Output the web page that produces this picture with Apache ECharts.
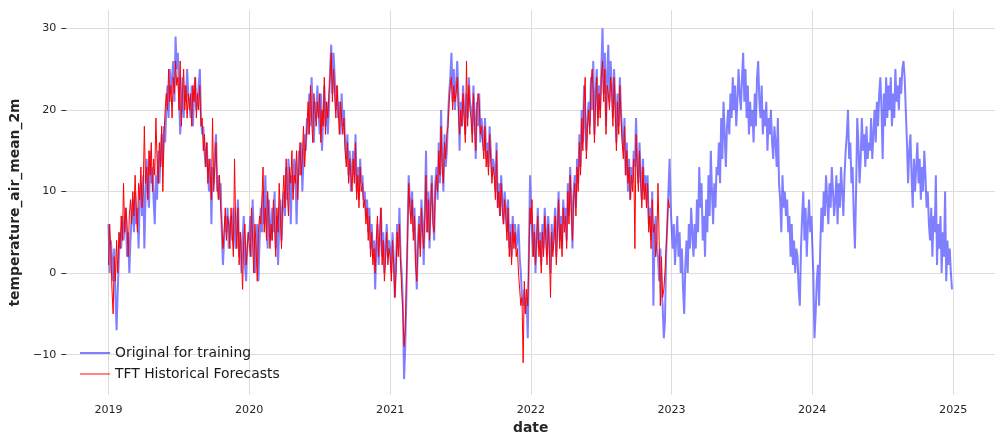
<!DOCTYPE html>
<html>
<head>
<meta charset="utf-8">
<script src="https://cdn.jsdelivr.net/npm/echarts@6/dist/echarts.min.js"></script>
<style>
  html, body { margin: 0; padding: 0; background: #fff; }
  #main { width: 1003px; height: 447px; }
</style>
</head>
<body>
<div id="main"></div>
<script>
// values every 3 days, each year's list starts on 1 Jan
const orig2019 = [6, 0, 4, 2, -1, 3, -3, -7, -2, 2,
  5, 3, 7, 4, 6, 8, 2, 5, 0, 4,
  7, 9, 5, 10, 6, 8, 3, 9, 11, 7,
  12, 3, 9, 14, 10, 8, 15, 11, 13, 9,
  6, 12, 9, 15, 11, 14, 17, 13, 18, 16,
  20, 23, 19, 25, 22, 24, 26, 21, 29, 25,
  27, 22, 17, 20, 24, 19, 23, 21, 25, 22,
  21, 19, 23, 18, 22, 24, 20, 21, 23, 25,
  19, 17, 18, 15, 13, 16, 12, 10, 14, 6,
  13, 11, 15, 17, 10, 12, 9, 11, 5, 1,
  4, 7, 5, 8, 3, 6, 7, 4, 8, 5,
  3, 6, 9, 2, 5, 0, 4, 7, 1, -1, 3, 5];
const orig2020 = [4, 7, 2, 9, 5, 0, 3, 6, -1, 4,
  8, 5, 10, 6, 12, 7, 3, 9, 6, 4,
  8, 5, 10, 3, 7, 1, 6, 9, 4, 8,
  10, 7, 13, 9, 14, 11, 6, 12, 10, 14,
  13, 6, 11, 15, 12, 16, 10, 14, 17, 15,
  19, 17, 22, 18, 24, 20, 16, 21, 19, 23,
  20, 17, 22, 15, 19, 23, 18, 21, 17, 20,
  25, 28, 22, 27, 24, 20, 23, 19, 21, 17,
  22, 18, 20, 16, 14, 17, 12, 15, 10, 13,
  15, 12, 17, 10, 13, 9, 14, 11, 12, 9,
  10, 7, 9, 5, 8, 3, 6, 2, 4, -2,
  3, 6, 1, 4, 8, 2, 5, 0, 3, 6, 2, 4];
const orig2021 = [3, 0, 5, 2, -3, 1, 6, 3, 8, 2,
  0, -4, -13, -9, -3, 5, 12, 9, 7, 10,
  5, 8, 2, -2, 4, 7, 3, 9, 6, 1,
  8, 15, 5, 10, 3, 9, 12, 7, 4, 11,
  13, 9, 16, 11, 20, 14, 10, 17, 13, 15,
  19, 22, 24, 27, 21, 25, 20, 23, 26, 22,
  15, 21, 18, 23, 20, 17, 22, 19, 24, 21,
  20, 17, 23, 19, 14, 21, 18, 22, 16, 19,
  17, 15, 19, 14, 16, 13, 18, 15, 12, 14,
  13, 10, 16, 8, 11, 7, 12, 9, 6, 10,
  8, 5, 9, 3, 6, 2, 7, 4, 6, 3,
  4, 6, 2, 0, -3, -4, -2, -5, -3, -8, 3, 12];
const orig2022 = [9, 5, 2, 6, 0, 4, 8, 3, 5, 1,
  6, 3, 8, 5, 2, 7, 4, 0, 6, 3,
  5, 8, 2, 6, 10, 4, 7, 3, 9, 6,
  8, 4, 11, 7, 13, 9, 3, 10, 12, 8,
  14, 11, 17, 13, 20, 16, 23, 18, 15, 19,
  21, 18, 24, 20, 26, 17, 22, 25, 19, 23,
  20, 25, 30, 22, 27, 18, 24, 28, 21, 26,
  23, 19, 25, 21, 16, 22, 18, 24, 20, 17,
  15, 19, 12, 16, 10, 14, 9, 13, 11, 15,
  13, 19, 14, 11, 16, 12, 9, 14, 10, 12,
  9, 12, 6, 8, 4, 10, -4, 5, 7, 3,
  2, -1, 3, -2, -4, -8, -6, 2, 6, 10, 14, 8];
const orig2023 = [8, 3, 6, 1, 4, 7, 2, 5, 0, 3,
  -2, -5, 1, 4, 0, 6, 3, 8, 5, 2,
  6, 3, 9, 5, 13, 8, 11, 4, 7, 2,
  9, 5, 12, 7, 15, 10, 6, 11, 8, 13,
  12, 16, 11, 19, 14, 21, 17, 13, 18, 20,
  17, 22, 19, 24, 20, 23, 18, 21, 25, 22,
  20, 24, 27, 21, 25, 19, 23, 17, 21, 18,
  20, 16, 22, 18, 24, 26, 21, 19, 23, 17,
  20, 18, 21, 15, 19, 17, 20, 16, 14, 18,
  16, 13, 19, 11, 9, 5, 12, 8, 10, 7,
  9, 5, 7, 2, 6, 1, 4, 0, 3, 2,
  -2, -4, 3, 7, 10, 4, 8, 2, 6, 9, 5, 7];
const orig2024 = [4, 0, -8, -5, -1, 1, -4, 3, 8, 5,
  10, 7, 12, 9, 6, 11, 8, 13, 10, 7,
  9, 12, 6, 11, 8, 13, 10, 7, 12, 15,
  17, 20, 14, 16, 11, 13, 7, 3, 10, 19,
  16, 11, 14, 19, 15, 17, 13, 18, 14, 16,
  15, 19, 14, 17, 20, 16, 21, 18, 22, 24,
  20, 14, 22, 18, 24, 19, 23, 20, 24, 18,
  22, 19, 25, 21, 23, 20, 24, 22, 25, 26,
  24, 20, 16, 11, 15, 17, 12, 8, 14, 10,
  13, 16, 11, 14, 9, 13, 10, 15, 12, 8,
  10, 6, 4, 8, 2, 7, 5, 12, 1, 6,
  3, 7, 0, 5, 2, 10, -1, 4, 1, 3, 0, -2];

const tft2019 = [1, 6, 3, -2, -5, 2, -1, 4, 0, 5,
  3, 7, 4, 11, 5, 8, 6, 2, 7, 9,
  6, 10, 7, 12, 8, 5, 11, 9, 13, 8,
  10, 18, 11, 13, 9, 15, 12, 16, 10, 14,
  12, 19, 14, 11, 16, 13, 18, 10, 17, 20,
  22, 20, 25, 21, 23, 19, 24, 22, 26, 23,
  24, 20, 26, 18, 22, 25, 20, 23, 19, 22,
  20, 22, 18, 23, 21, 24, 19, 22, 20, 23,
  18, 19, 15, 17, 13, 16, 11, 14, 12, 9,
  19, 10, 13, 16, 11, 9, 12, 8, 6, 3,
  5, 8, 4, 7, 6, 3, 8, 5, 2, 14,
  6, 3, 8, 1, 5, 2, -2, 4, 6, 1, 3, 5];
const tft2020 = [5, 2, 8, 4, 0, 6, 3, -1, 5, 7,
  6, 9, 13, 5, 8, 4, 10, 7, 3, 6,
  4, 9, 6, 2, 8, 5, 11, 7, 3, 9,
  12, 8, 14, 10, 7, 13, 11, 15, 9, 12,
  11, 15, 9, 13, 16, 12, 14, 18, 13, 16,
  18, 21, 17, 23, 19, 16, 22, 20, 18, 21,
  19, 22, 16, 20, 18, 24, 17, 21, 19, 22,
  24, 27, 21, 25, 22, 19, 23, 20, 17, 21,
  21, 17, 19, 15, 13, 16, 11, 14, 12, 10,
  14, 11, 16, 9, 12, 8, 13, 10, 11, 8,
  9, 6, 8, 4, 7, 2, 5, 1, 3, 0,
  4, 7, 2, 5, 8, 1, 4, -1, 2, 5, 1, 3];
const tft2021 = [2, -1, 4, 1, -3, 0, 5, 2, 6, 1,
  -2, -5, -9, -7, -1, 4, 11, 8, 6, 9,
  4, 7, 1, -1, 3, 6, 2, 8, 5, 3,
  7, 12, 5, 9, 4, 8, 11, 6, 5, 10,
  12, 10, 15, 12, 18, 13, 11, 16, 14, 17,
  18, 21, 23, 24, 20, 23, 21, 22, 24, 20,
  17, 20, 18, 22, 19, 16, 26, 18, 23, 20,
  19, 16, 22, 18, 15, 20, 22, 21, 17, 18,
  16, 14, 18, 13, 15, 12, 17, 14, 11, 13,
  12, 9, 15, 8, 10, 7, 11, 8, 6, 9,
  7, 4, 8, 2, 5, 1, 6, 3, 5, 2,
  3, 0, -2, -4, -3, -11, -1, -5, -2, -4, 2, 8];
const tft2022 = [6, 9, 2, 5, 1, 4, 7, 2, 4, 0,
  5, 2, 7, 4, 1, 6, 3, -3, 5, 2,
  4, 7, 1, 5, 9, 3, 6, 2, 8, 5,
  7, 3, 10, 6, 12, 8, 4, 9, 11, 7,
  13, 10, 16, 12, 19, 15, 21, 24, 14, 18,
  20, 17, 23, 25, 22, 16, 21, 24, 18, 22,
  19, 24, 26, 21, 25, 17, 23, 22, 20, 24,
  22, 18, 24, 20, 15, 21, 17, 23, 19, 16,
  14, 18, 12, 15, 11, 13, 9, 12, 10, 14,
  3, 17, 13, 10, 15, 11, 8, 13, 9, 11,
  8, 11, 5, 7, 3, 9, 5, 6, 2, 4,
  11, 4, -4, 2, -3, -2, 0, 3, 6, 9, 8];

const origYears = [[2019, orig2019], [2020, orig2020], [2021, orig2021], [2022, orig2022], [2023, orig2023], [2024, orig2024]];
const tftYears = [[2019, tft2019], [2020, tft2020], [2021, tft2021], [2022, tft2022]];
const yearTicks = [2019, 2020, 2021, 2022, 2023, 2024, 2025];
const yTicks = [-10, 0, 10, 20, 30];

const DAY = 86400000;
function toPairs(years) {
  let out = [];
  for (let k = 0; k < years.length; k++) {
    let start = Date.UTC(years[k][0], 0, 1);
    let vals = years[k][1];
    for (let i = 0; i < vals.length; i++) {
      out.push([start + i * 3 * DAY, vals[i]]);
    }
  }
  return out;
}
const xTicks = yearTicks.map(y => Date.UTC(y, 0, 1));

const font = 'DejaVu Sans';
const chart = echarts.init(document.getElementById('main'));
chart.setOption({
  animation: false,
  backgroundColor: '#fff',
  grid: { left: 64, right: 8, top: 10, bottom: 52 },
  legend: {
    orient: 'vertical',
    left: 75,
    top: 341,
    itemWidth: 30,
    itemHeight: 14,
    itemGap: 7,
    textStyle: { fontFamily: font, fontSize: 13.9, color: '#1a1a1a' },
    data: [
      {
        name: 'Original for training',
        icon: 'path://M0,0H30V2H0Z',
        itemStyle: { color: 'rgba(0,0,255,0.5)', borderWidth: 0, borderColor: 'transparent' }
      },
      {
        name: 'TFT Historical Forecasts',
        icon: 'path://M0,0H30V1.2H0Z',
        itemStyle: { color: 'rgba(255,0,0,0.8)', borderWidth: 0, borderColor: 'transparent' }
      }
    ]
  },
  xAxis: {
    // timestamps on a plain value axis, labelled by year
    type: 'value',
    min: Date.UTC(2019, 0, 1) - 109.5 * DAY,
    max: Date.UTC(2024, 11, 31) + 109.5 * DAY,
    name: 'date',
    nameLocation: 'middle',
    nameGap: 26,
    nameTextStyle: { fontFamily: font, fontSize: 13.9, fontWeight: 'bold', color: '#262626', verticalAlign: 'top' },
    axisLine: { show: false },
    axisTick: { show: false, customValues: xTicks },
    axisLabel: {
      customValues: xTicks,
      margin: 10,
      fontFamily: font, fontSize: 11.1, color: '#262626',
      formatter: v => String(new Date(v).getUTCFullYear())
    },
    splitLine: { show: true, lineStyle: { color: '#dddddd', width: 1 } }
  },
  yAxis: {
    type: 'value',
    min: -14.95,
    max: 32.25,
    name: 'temperature_air_mean_2m',
    nameLocation: 'middle',
    nameGap: 41,
    nameTextStyle: { fontFamily: font, fontSize: 13.9, fontWeight: 'bold', color: '#262626' },
    axisLine: { show: false },
    axisTick: { show: true, length: 5, customValues: yTicks, lineStyle: { color: '#333', width: 1 } },
    axisLabel: {
      customValues: yTicks, margin: 10, fontFamily: font, fontSize: 11.1, color: '#262626',
      formatter: v => String(v).replace('-', '\u2212')
    },
    splitLine: { show: true, lineStyle: { color: '#dddddd', width: 1 } }
  },
  series: [
    {
      name: 'Original for training',
      type: 'line',
      showSymbol: false,
      symbol: 'none',
      data: toPairs(origYears),
      lineStyle: { color: 'rgba(0,0,255,0.5)', width: 2 },
      itemStyle: { color: 'rgba(0,0,255,0.5)' }
    },
    {
      name: 'TFT Historical Forecasts',
      type: 'line',
      showSymbol: false,
      symbol: 'none',
      data: toPairs(tftYears),
      lineStyle: { color: '#ff0000', width: 1 },
      itemStyle: { color: '#ff0000' }
    }
  ]
});
</script>
</body>
</html>
